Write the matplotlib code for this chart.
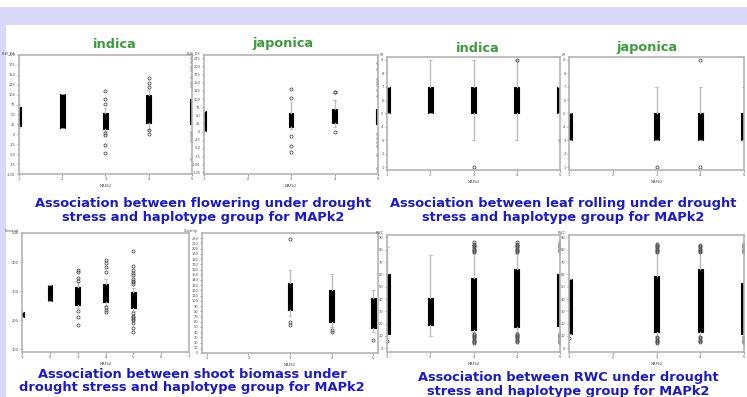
import matplotlib
matplotlib.use("Agg")
import matplotlib.pyplot as plt
from matplotlib.patches import Rectangle

W, H = 747, 397
fig = plt.figure(figsize=(W / 100, H / 100), dpi=100)
fig.patch.set_facecolor("white")

LAV = "#d8d8fa"
GREEN = "#3c9c3c"
BLUE = "#1a1acc"

# ---------------- data ----------------
# Flowering under drought, indica
flw_ind_pos = [1, 2, 3, 4, 5]
flw_ind_q1 = [21, 16, 13, 28, 26]
flw_ind_q3 = [69, 102, 54, 99, 89]
flw_ind_lo = [16, 16, 8, 12, 15]
flw_ind_hi = [76, 102, 66, 112, 108]
flw_ind_out = [[], [], [110, 89, 76, 4, -2, -27, -48], [142, 129, 119, 11, 1],
               [192, 182, 170, 162, 145, 129, 122, 6, 0, -6, -14, -62]]
flw_ticks = [-100, -75, -50, -25, 0, 25, 50, 75, 100, 125, 150, 175, 200]

# Flowering under drought, japonica
flw_jap_pos = [1, 3, 4, 5]
flw_jap_q1 = [2, 14, 26, 23]
flw_jap_q3 = [63, 57, 69, 69]
flw_jap_lo = [2, 8, 14, 10]
flw_jap_hi = [63, 90, 96, 100]
flw_jap_out = [[], [132, 102, -13, -43, -61], [123, 120, -1],
               [211, 193, 160, 152, 144, 129, 108, -7, -20, -32, -43, -73, -113]]
flw_jap_ticks = [-125, -100, -75, -50, -25, 0, 25, 50, 75, 100, 125, 150, 175, 200, 225]

# Leaf rolling, indica
lr_ind_pos = [1, 2, 3, 4, 5]
lr_ind_q1 = [5, 5, 5, 5, 5]
lr_ind_q3 = [7, 7, 7, 7, 7]
lr_ind_lo = [5, 5, 3, 3, 5]
lr_ind_hi = [7, 9, 9, 9, 7]
lr_ind_out = [[], [], [1], [9], [3]]

# Leaf rolling, japonica
lr_jap_pos = [1, 3, 4, 5]
lr_jap_q1 = [3, 3, 3, 3]
lr_jap_q3 = [5, 5, 5, 5]
lr_jap_lo = [3, 3, 3, 3]
lr_jap_hi = [5, 7, 7, 7]
lr_jap_out = [[], [1], [9, 1], []]
lr_ticks = [1, 2, 3, 4, 5, 6, 7, 8, 9]

# Shoot biomass, indica
sb_ind_pos = [1, 2, 3, 4, 5]
sb_ind_q1 = [211, 266, 252, 262, 241]
sb_ind_q3 = [229, 321, 315, 324, 297]
sb_ind_lo = [211, 266, 240, 250, 230]
sb_ind_hi = [229, 321, 330, 340, 312]
sb_ind_out = [[], [], [372, 364, 346, 335, 231, 211, 183],
              [407, 395, 384, 364, 246, 234, 227],
              [438, 387, 372, 362, 355, 343, 336, 330, 323, 223, 215, 211, 205, 200, 189, 171, 160]]
sb_ind_ticks = [100, 200, 300, 400, 500]

# Shoot biomass, japonica
sb_jap_pos = [3, 4, 5]
sb_jap_q1 = [82, 59, 48]
sb_jap_q3 = [134, 121, 105]
sb_jap_lo = [70, 50, 40]
sb_jap_hi = [159, 151, 120]
sb_jap_out = [[218, 59, 54], [44, 40], [25]]
sb_jap_ticks = list(range(0, 230, 10))

# RWC, indica
rwc_ind_pos = [1, 2, 3, 4, 5]
rwc_ind_q1 = [12, 19, 15, 17, 18]
rwc_ind_q3 = [60, 41, 57, 64, 60]
rwc_ind_lo = [8, 10, 13, 13, 13]
rwc_ind_hi = [82, 76, 77, 77, 78]
rwc_ind_out = [[6], [],
               [86, 85, 84, 83, 82, 81, 80, 79, 78, 12, 11, 10, 9, 8, 7, 6, 5, 4],
               [86, 85, 84, 83, 82, 81, 80, 79, 78, 12, 11, 10, 9, 8, 7, 6, 5],
               [86, 85, 84, 83, 82, 81, 80, 79, 12, 11, 10, 9, 8, 7, 6, 5, 4]]

# RWC, japonica
rwc_jap_pos = [1, 3, 4, 5]
rwc_jap_q1 = [12, 13, 13, 12]
rwc_jap_q3 = [56, 59, 64, 53]
rwc_jap_lo = [12, 10, 10, 10]
rwc_jap_hi = [56, 77, 78, 77]
rwc_jap_out = [[8],
               [85, 84, 83, 82, 81, 80, 79, 78, 9, 8, 7, 6, 5, 4],
               [84, 83, 82, 81, 80, 79, 78, 9, 8, 7, 6, 5],
               [85, 84, 83, 82, 81, 80, 79, 78, 9, 8, 7, 6, 5, 4]]
rwc_ticks = [0, 10, 20, 30, 40, 50, 60, 70, 80, 90]

# ---------------- background ----------------
bg = fig.add_axes([0, 0, 1, 1])
bg.set_xlim(0, W)
bg.set_ylim(H, 0)
bg.axis("off")
bg.add_patch(Rectangle((0, 7), W, 18, facecolor=LAV, edgecolor="none"))
bg.add_patch(Rectangle((0, 7), 6, H, facecolor=LAV, edgecolor="none"))


def panel(px, py, pw, ph, pos, q1, q3, lo, hi, out, xlim, xticks, ylim, yticks,
          width, ylab):
    ax = fig.add_axes([px / W, 1 - (py + ph) / H, pw / W, ph / H])
    stats = []
    for a, b, c, d, f in zip(q1, q3, lo, hi, out):
        stats.append(dict(med=(a + b) / 2, q1=a, q3=b, whislo=c, whishi=d, fliers=f))
    ax.bxp(stats, positions=pos, widths=width, patch_artist=True, showcaps=True,
           boxprops=dict(facecolor="black", edgecolor="black", linewidth=0.8),
           medianprops=dict(color="black", linewidth=0.6),
           whiskerprops=dict(color="#bdbdbd", linewidth=1.0),
           capprops=dict(color="#bdbdbd", linewidth=0.6),
           capwidths=width * 0.6,
           flierprops=dict(marker="o", markersize=2.2, markerfacecolor="none",
                           markeredgecolor="#505050", markeredgewidth=0.6))
    ax.set_xlim(*xlim)
    ax.set_ylim(*ylim)
    ax.set_xticks(xticks)
    ax.set_xticklabels([str(t) for t in xticks])
    ax.set_yticks(yticks)
    ax.set_yticklabels([str(t) for t in yticks])
    ax.tick_params(labelsize=2.6, length=1.5, width=0.4, pad=1, colors="#505050")
    for s in ax.spines.values():
        s.set_color("#b4b4b4")
        s.set_linewidth(1.2)
    ax.set_xlabel("MAPk2", fontsize=2.6, labelpad=2, color="#505050")
    ax.text(-0.02, 1.0, ylab, transform=ax.transAxes, fontsize=2.4, color="#505050",
            ha="right", va="bottom")
    return ax


# top row
panel(19, 55, 173, 119, flw_ind_pos, flw_ind_q1, flw_ind_q3, flw_ind_lo, flw_ind_hi,
      flw_ind_out, (1, 5), [1, 2, 3, 4, 5], (-100, 200), flw_ticks, 0.11, "FLW_DS")
panel(204, 55, 174, 119, flw_jap_pos, flw_jap_q1, flw_jap_q3, flw_jap_lo, flw_jap_hi,
      flw_jap_out, (1, 5), [1, 2, 3, 4, 5], (-130, 235), flw_jap_ticks, 0.11, "FLW_DS")
panel(387, 57, 173, 113, lr_ind_pos, lr_ind_q1, lr_ind_q3, lr_ind_lo, lr_ind_hi,
      lr_ind_out, (1, 5), [1, 2, 3, 4, 5], (0.8, 9.2), lr_ticks, 0.12, "LR")
panel(569, 57, 175, 113, lr_jap_pos, lr_jap_q1, lr_jap_q3, lr_jap_lo, lr_jap_hi,
      lr_jap_out, (1, 5), [1, 2, 3, 4, 5], (0.8, 9.2), lr_ticks, 0.12, "LR")

# bottom row
panel(22, 233, 167, 119, sb_ind_pos, sb_ind_q1, sb_ind_q3, sb_ind_lo, sb_ind_hi,
      sb_ind_out, (1, 7), [1, 2, 3, 4, 5, 6, 7], (90, 500), sb_ind_ticks, 0.16, "Shoot(g)")
panel(202, 233, 176, 120, sb_jap_pos, sb_jap_q1, sb_jap_q3, sb_jap_lo, sb_jap_hi,
      sb_jap_out, (0.88, 5.12), [1, 2, 3, 4, 5], (0, 230), sb_jap_ticks, 0.12, "Shoot(g)")
panel(387, 235, 173, 117, rwc_ind_pos, rwc_ind_q1, rwc_ind_q3, rwc_ind_lo, rwc_ind_hi,
      rwc_ind_out, (1, 5), [1, 2, 3, 4, 5], (-3, 92), rwc_ticks, 0.12, "RWC")
panel(569, 235, 175, 117, rwc_jap_pos, rwc_jap_q1, rwc_jap_q3, rwc_jap_lo, rwc_jap_hi,
      rwc_jap_out, (1, 5), [1, 2, 3, 4, 5], (-3, 92), rwc_ticks, 0.12, "RWC")

# ---------------- texts ----------------
for x, y, s in [(115, 45, "indica"), (283, 43, "japonica"),
                (478, 49, "indica"), (647, 48, "japonica")]:
    bg.text(x, y, s, color=GREEN, fontsize=9.3, fontweight="bold",
            ha="center", va="center")

caps = [
    (203, 203, 218, "Association between flowering under drought",
     "stress and haplotype group for MAPk2"),
    (563, 203, 218, "Association between leaf rolling under drought",
     "stress and haplotype group for MAPk2"),
    (192, 374, 388, "Association between shoot biomass under",
     "drought stress and haplotype group for MAPk2"),
    (568, 378, 392, "Association between RWC under drought",
     "stress and haplotype group for MAPk2"),
]
for x, y1, y2, l1, l2 in caps:
    bg.text(x, y1, l1, color=BLUE, fontsize=9.4, fontweight="bold", ha="center", va="center")
    bg.text(x, y2, l2, color=BLUE, fontsize=9.4, fontweight="bold", ha="center", va="center")

fig.savefig("out.png", dpi=100, facecolor="white")
